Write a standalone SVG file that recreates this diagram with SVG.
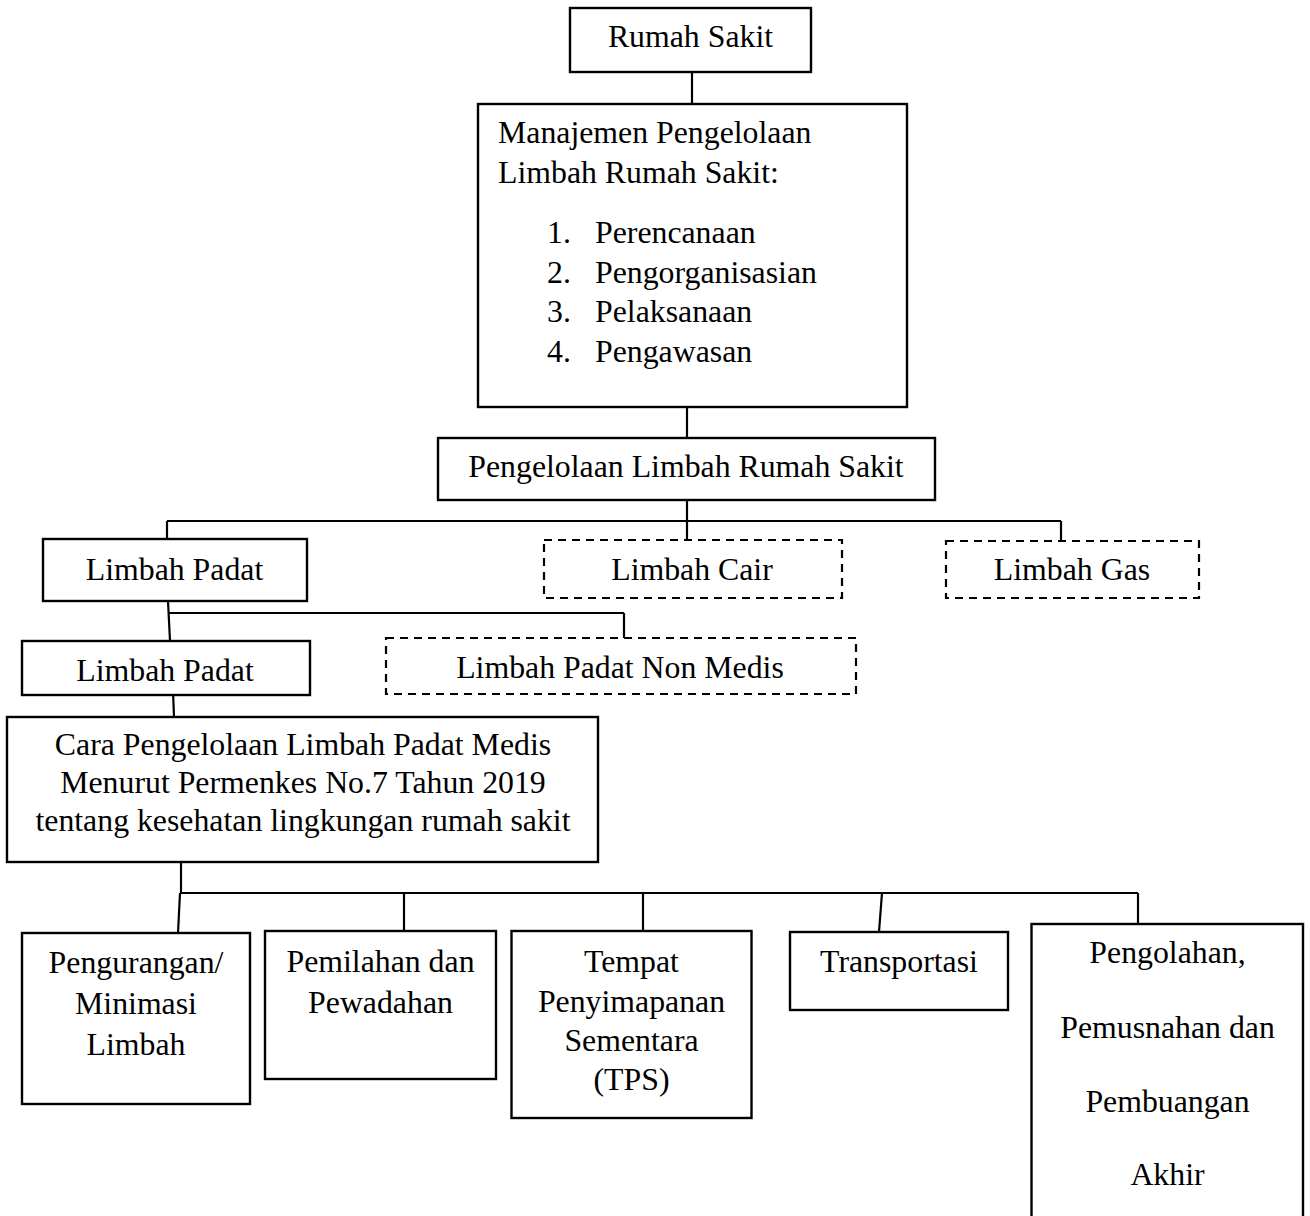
<svg xmlns="http://www.w3.org/2000/svg" width="1310" height="1216" viewBox="0 0 1310 1216">
<style>
.box{fill:#fff;stroke:#000;stroke-width:2.4}
.dash{fill:#fff;stroke:#000;stroke-width:2.2;stroke-dasharray:8 6}
.t{font-family:"Liberation Serif","Times New Roman",serif;font-size:31.8px;fill:#000}
.c{text-anchor:middle}
.con line{stroke:#000;stroke-width:2.2;fill:none}
</style>
<rect width="1310" height="1216" fill="#fff"/>
<g id="connectors" class="con">
<line x1="692" y1="72" x2="692" y2="104"/>
<line x1="687" y1="407" x2="687" y2="438"/>
<line x1="687" y1="500" x2="687" y2="540"/>
<line x1="167" y1="521" x2="1061" y2="521"/>
<line x1="167" y1="521" x2="167" y2="539"/>
<line x1="1061" y1="521" x2="1061" y2="541"/>
<line x1="168" y1="601" x2="170" y2="641"/>
<line x1="168" y1="613" x2="624" y2="613"/>
<line x1="624" y1="613" x2="624" y2="638"/>
<line x1="173" y1="691" x2="174" y2="717"/>
<line x1="181" y1="858" x2="181" y2="893"/>
<line x1="180" y1="893" x2="1138" y2="893"/>
<line x1="180" y1="893" x2="178" y2="933"/>
<line x1="404" y1="893" x2="404" y2="931"/>
<line x1="643" y1="893" x2="643" y2="931"/>
<line x1="882" y1="893" x2="879" y2="932"/>
<line x1="1138" y1="893" x2="1138" y2="924"/>
</g>
<g id="n-rumah-sakit">
<rect class="box" x="570" y="8" width="241" height="64"/>
<text class="t c" x="690.5" y="47">Rumah Sakit</text>
</g>
<g id="n-manajemen">
<rect class="box" x="478" y="104" width="429" height="303"/>
<text class="t" x="498" y="143">Manajemen Pengelolaan</text>
<text class="t" x="498" y="183">Limbah Rumah Sakit:</text>
<text class="t" x="547" y="243">1.</text><text class="t" x="595" y="243">Perencanaan</text>
<text class="t" x="547" y="283">2.</text><text class="t" x="595" y="283">Pengorganisasian</text>
<text class="t" x="547" y="322">3.</text><text class="t" x="595" y="322">Pelaksanaan</text>
<text class="t" x="547" y="362">4.</text><text class="t" x="595" y="362">Pengawasan</text>
</g>
<g id="n-pengelolaan">
<rect class="box" x="438" y="438" width="497" height="62"/>
<text class="t c" x="686" y="477">Pengelolaan Limbah Rumah Sakit</text>
</g>
<g id="n-limbah-padat">
<rect class="box" x="43" y="539" width="264" height="62"/>
<text class="t c" x="174.5" y="580">Limbah Padat</text>
</g>
<g id="n-limbah-cair">
<rect class="dash" x="544" y="540" width="298" height="58"/>
<text class="t c" x="692" y="580">Limbah Cair</text>
</g>
<g id="n-limbah-gas">
<rect class="dash" x="946" y="541" width="253" height="57"/>
<text class="t c" x="1072" y="580">Limbah Gas</text>
</g>
<g id="n-limbah-padat-medis">
<rect class="box" x="22" y="641" width="288" height="54"/>
<text class="t c" x="165" y="681">Limbah Padat</text>
</g>
<g id="n-limbah-padat-non-medis">
<rect class="dash" x="386" y="638" width="470" height="56"/>
<text class="t c" x="620" y="678">Limbah Padat Non Medis</text>
</g>
<g id="n-cara">
<rect class="box" x="7" y="717" width="591" height="145"/>
<text class="t c" x="303" y="755">Cara Pengelolaan Limbah Padat Medis</text>
<text class="t c" x="303" y="793">Menurut Permenkes No.7 Tahun 2019</text>
<text class="t c" x="303" y="831">tentang kesehatan lingkungan rumah sakit</text>
</g>
<g id="n-pengurangan">
<rect class="box" x="22" y="933" width="228" height="171"/>
<text class="t c" x="136" y="973">Pengurangan/</text>
<text class="t c" x="136" y="1014">Minimasi</text>
<text class="t c" x="136" y="1055">Limbah</text>
</g>
<g id="n-pemilahan">
<rect class="box" x="265" y="931" width="231" height="148"/>
<text class="t c" x="380.5" y="972">Pemilahan dan</text>
<text class="t c" x="380.5" y="1013">Pewadahan</text>
</g>
<g id="n-tps">
<rect class="box" x="511.5" y="931" width="240" height="187"/>
<text class="t c" x="631.5" y="972">Tempat</text>
<text class="t c" x="631.5" y="1012">Penyimapanan</text>
<text class="t c" x="631.5" y="1051">Sementara</text>
<text class="t c" x="631.5" y="1090">(TPS)</text>
</g>
<g id="n-transportasi">
<rect class="box" x="790" y="932" width="218" height="78"/>
<text class="t c" x="899" y="972">Transportasi</text>
</g>
<g id="n-pengolahan">
<rect class="box" x="1031.5" y="924" width="271.5" height="300"/>
<text class="t c" x="1167.5" y="963">Pengolahan,</text>
<text class="t c" x="1167.5" y="1038">Pemusnahan dan</text>
<text class="t c" x="1167.5" y="1112">Pembuangan</text>
<text class="t c" x="1167.5" y="1185">Akhir</text>
</g>
</svg>
